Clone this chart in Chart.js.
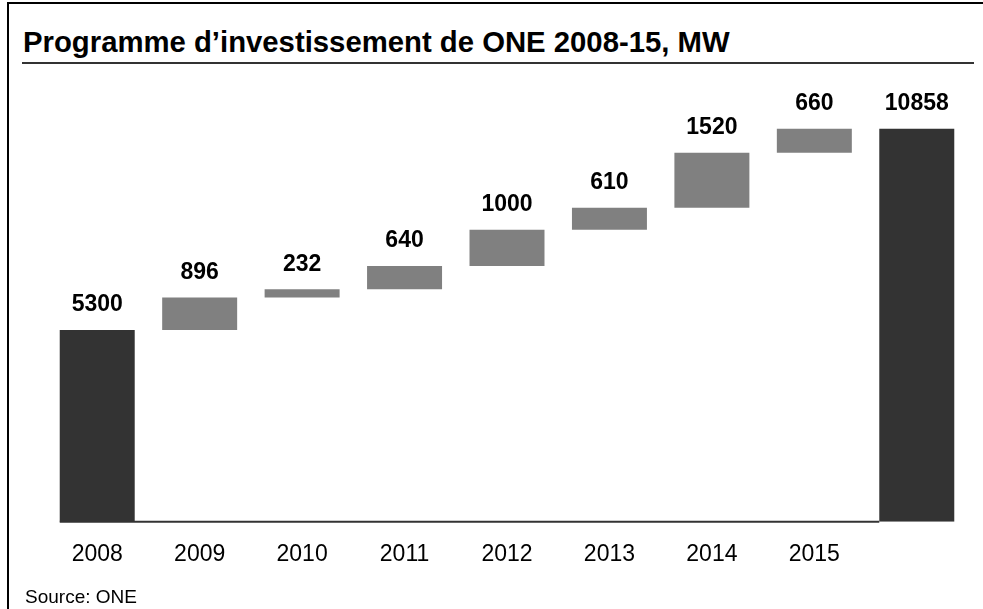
<!DOCTYPE html>
<html>
<head>
<meta charset="utf-8">
<script src="https://cdn.jsdelivr.net/npm/chart.js@4/dist/chart.umd.min.js"></script>
<style>
  html, body { margin: 0; padding: 0; width: 983px; height: 609px; overflow: hidden; background: #fff; }
  body { position: relative; font-family: "Liberation Sans", Arial, sans-serif; }
  #frame { position: absolute; left: 7px; top: 2px; width: 1000px; height: 700px; border: 2px solid #000; box-sizing: border-box; }
  #title { position: absolute; left: 23px; top: 25px; font-size: 29.3px; font-weight: bold; color: #000; white-space: nowrap; line-height: 34px; }
  #rule { position: absolute; left: 22px; top: 62px; width: 952px; height: 0; border-top: 2px solid #333; }
  #source { position: absolute; left: 25px; top: 586px; font-size: 19px; color: #000; white-space: nowrap; line-height: 22px; }
  #c { position: absolute; left: 0; top: 70px; }
</style>
</head>
<body>
<div id="frame"></div>
<div id="title">Programme d’investissement de ONE 2008-15, MW</div>
<div id="rule"></div>
<canvas id="c" width="983" height="532"></canvas>
<div id="source">Source: ONE</div>
<script>
const categories = ['2008', '2009', '2010', '2011', '2012', '2013', '2014', '2015', ''];
const values = [5300, 896, 232, 640, 1000, 610, 1520, 660, 10858];
const isTotal = [true, false, false, false, false, false, false, false, true];

// Build floating bar ranges from the values (waterfall)
const ranges = [];
let running = 0;
values.forEach((v, i) => {
  if (isTotal[i]) { ranges.push([0, v]); running = v; }
  else { ranges.push([running, running + v]); running += v; }
});
const colors = isTotal.map(t => t ? '#333333' : '#808080');

const FONT = '"Liberation Sans", Arial, sans-serif';

const valueLabels = {
  id: 'valueLabels',
  afterDatasetsDraw(chart) {
    const ctx = chart.ctx;
    const meta = chart.getDatasetMeta(0);
    ctx.save();
    ctx.font = 'bold 23px ' + FONT;
    ctx.fillStyle = '#000';
    ctx.textAlign = 'center';
    ctx.textBaseline = 'middle';
    meta.data.forEach((el, i) => {
      const top = Math.min(el.y, el.base);
      ctx.fillText(String(values[i]), el.x, top - 25);
    });
    ctx.restore();
  }
};

const baseLine = {
  id: 'baseLine',
  beforeDatasetsDraw(chart) {
    const ctx = chart.ctx;
    const meta = chart.getDatasetMeta(0);
    const y = chart.scales.y.getPixelForValue(0);
    const first = meta.data[0], last = meta.data[meta.data.length - 1];
    ctx.save();
    ctx.strokeStyle = '#333333';
    ctx.lineWidth = 2;
    ctx.beginPath();
    ctx.moveTo(first.x - first.width / 2, y);
    ctx.lineTo(last.x - last.width / 2, y);
    ctx.stroke();
    ctx.restore();
  }
};

new Chart(document.getElementById('c'), {
  type: 'bar',
  data: {
    labels: categories,
    datasets: [{
      data: ranges,
      backgroundColor: colors,
      borderWidth: 0,
      borderSkipped: false,
      categoryPercentage: 1,
      barPercentage: 0.732
    }]
  },
  options: {
    responsive: false,
    animation: false,
    devicePixelRatio: 1,
    layout: { padding: { left: 46, right: 15, top: 17.5, bottom: 13.6 } },
    plugins: { legend: { display: false }, tooltip: { enabled: false }, title: { display: false } },
    scales: {
      x: {
        grid: { display: false, drawTicks: false },
        border: { display: false },
        ticks: { color: '#000', font: { family: FONT, size: 23 }, padding: 19.5, maxRotation: 0, autoSkip: false }
      },
      y: {
        display: false,
        min: 0,
        max: 12000
      }
    }
  },
  plugins: [baseLine, valueLabels]
});
</script>
</body>
</html>
